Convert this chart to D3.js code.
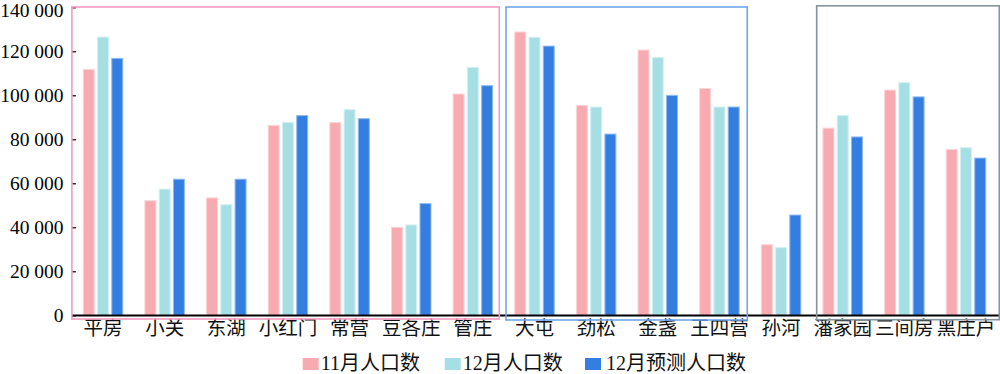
<!DOCTYPE html>
<html>
<head>
<meta charset="utf-8">
<script src="https://cdn.jsdelivr.net/npm/d3@7/dist/d3.min.js"></script>
<style>
  html, body { margin: 0; padding: 0; background: #fff; }
  svg { display: block; }
</style>
</head>
<body>
<div id="chart"></div>
<script>
// ---------- data ----------
const categories = ["平房","小关","东湖","小红门","常营","豆各庄","管庄","大屯","劲松","金盏","王四营","孙河","潘家园","三间房","黑庄户"];
const seriesNames = ["11月人口数","12月人口数","12月预测人口数"];
const nov = [112000, 52300, 53600, 86500, 87800, 40200, 100800, 129000, 95600, 120800, 103300, 32300, 85300, 102600, 75600];
const dec = [126700, 57600, 50500, 87900, 93700, 41300, 112900, 126600, 94900, 117400, 94900, 31000, 91000, 106000, 76400];
const decForecast = [117000, 62100, 62100, 91000, 89600, 51000, 104600, 122600, 82600, 100200, 94900, 45800, 81300, 99500, 71700];
const yTicks = [0, 20000, 40000, 60000, 80000, 100000, 120000, 140000];
const boxGroups = [
  ["平房","小关","东湖","小红门","常营","豆各庄","管庄"],
  ["大屯","劲松","金盏","王四营"],
  ["潘家园","三间房","黑庄户"]
];

// ---------- styles ----------
const fillColors = ["#f7abb1", "#a6dfe3", "#337ee0"];
const edgeColors = ["#fcd4d8", "#d3f0f2", "#8fbaf0"];
const boxColors = ["#f59ac0", "#6ea6ec", "#85939c"];
const boxInsets = [[-0.3, -4.4, 7, 319], [2.3, -3, 7, 320], [4.8, 2.5, 5.8, 319.7]];

const W = 1000, H = 374;
const svg = d3.select("#chart").append("svg").attr("width", W).attr("height", H);

const x = d3.scaleBand().domain(categories).range([72.2, 996.8]).padding(0);
const groupW = 40.5;
const x1 = d3.scaleBand().domain(seriesNames).range([0, groupW]).paddingInner(0.16);
const y = d3.scaleLinear().domain([0, 140000]).range([315.3, 7.3]);

const seriesData = [nov, dec, decForecast];
const off = (x.bandwidth() - groupW) / 2;

// bars
seriesNames.forEach((s, si) => {
  svg.append("g").selectAll("rect")
    .data(categories.map((c, i) => ({c, v: seriesData[si][i]})))
    .join("rect")
    .attr("x", d => x(d.c) + off + x1(s) + 0.5)
    .attr("y", d => y(d.v) + 0.5)
    .attr("width", x1.bandwidth() - 1)
    .attr("height", d => y(0) - y(d.v) - 0.5)
    .attr("fill", fillColors[si])
    .attr("stroke", edgeColors[si])
    .attr("stroke-width", 1);
});

// y axis (ticks + labels)
const yAxis = d3.axisLeft(y).tickValues(yTicks).tickSize(-4).tickPadding(8.5)
  .tickFormat(d => d3.format(",")(d).replace(/,/g, " "));
const gy = svg.append("g").attr("transform", "translate(72,0)").call(yAxis);
gy.select(".domain").remove();
gy.selectAll(".tick line").attr("stroke", "#000").attr("stroke-width", 1.2);
gy.selectAll(".tick text")
  .attr("font-family", "'Liberation Serif', 'DejaVu Serif', serif")
  .attr("font-size", 19.5).attr("fill", "#000")
  .attr("dy", d => d === 140000 ? "0.46em" : "0.34em");

// x axis
const xAxis = d3.axisBottom(x).tickSize(0).tickPadding(8);
const gx = svg.append("g").attr("transform", `translate(0,${y(0)})`).call(xAxis);
gx.select(".domain").remove();
svg.append("line").attr("x1", 72).attr("x2", 1000).attr("y1", y(0) + 0.3).attr("y2", y(0) + 0.3)
  .attr("stroke", "#000").attr("stroke-width", 2);
gx.selectAll(".tick text")
  .attr("font-family", "'Noto Sans CJK SC', sans-serif")
  .attr("font-size", 19.5).attr("fill", "#111")
  .attr("dy", "0.62em");

// group boxes
boxGroups.forEach((g, gi) => {
  const x0 = x(g[0]) + boxInsets[gi][0];
  const xEnd = x(g[g.length - 1]) + x.bandwidth() + boxInsets[gi][1];
  svg.append("rect")
    .attr("x", x0).attr("y", boxInsets[gi][2])
    .attr("width", xEnd - x0).attr("height", boxInsets[gi][3] - boxInsets[gi][2])
    .attr("fill", "none").attr("stroke", boxColors[gi]).attr("stroke-width", 1.6);
});

// legend
const legendX = [302.7, 444.7, 585];
const lg = svg.append("g");
seriesNames.forEach((s, i) => {
  const g = lg.append("g").attr("transform", `translate(${legendX[i]},358)`);
  g.append("rect").attr("width", 16).attr("height", 12).attr("fill", fillColors[i]);
  g.append("text").attr("x", i === 2 ? 21 : 18).attr("y", 11.5)
    .attr("font-family", "'Liberation Serif', 'Noto Sans CJK SC', serif")
    .attr("font-size", 20).attr("fill", "#111")
    .text(s);
});
</script>
</body>
</html>
